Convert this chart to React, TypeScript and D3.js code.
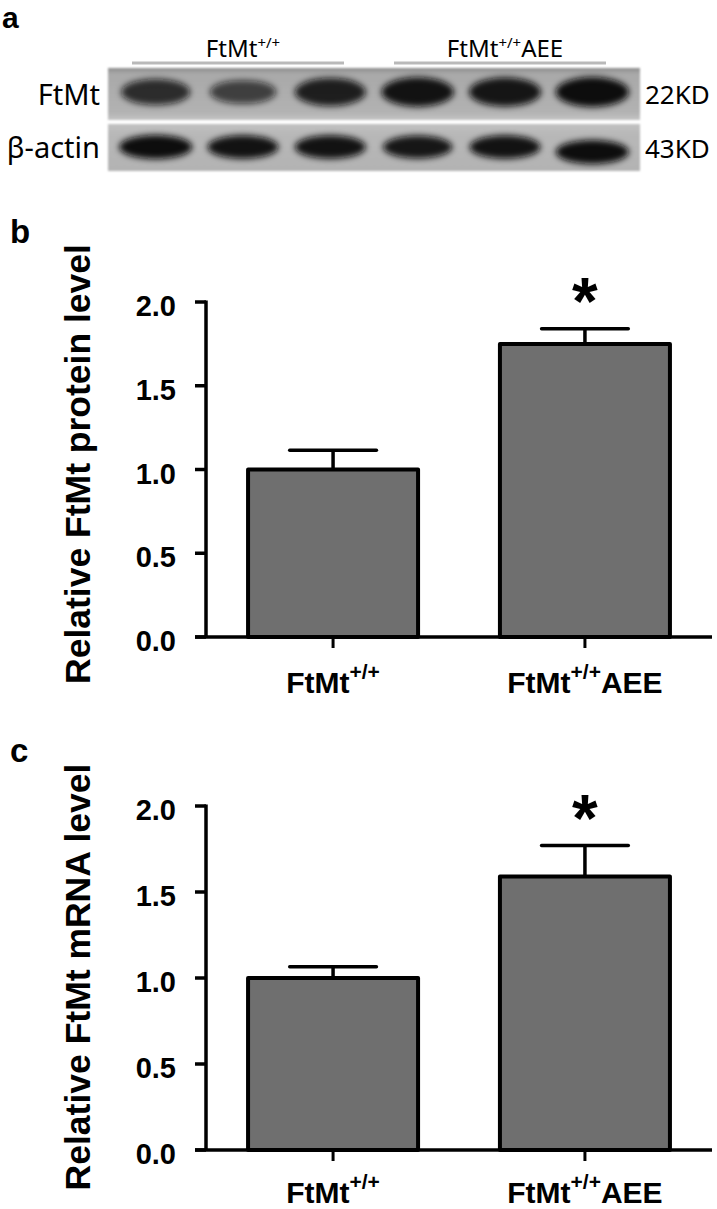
import React from "react";
import * as d3 from "d3";

// ---------- data ----------
const categories = ["FtMt+/+", "FtMt+/+AEE"];
const proteinMean = [1.0, 1.75];
const proteinErr = [0.115, 0.09];
const mrnaMean = [1.0, 1.59];
const mrnaErr = [0.065, 0.18];
const significant = [false, true];
const yTicks = [0, 0.5, 1.0, 1.5, 2.0];

const lanes = ["L1", "L2", "L3", "L4", "L5", "L6"];
const ftmtIntensity = [0.72, 0.55, 0.85, 0.95, 0.92, 1.0];
const actinIntensity = [1.0, 0.97, 0.97, 0.95, 0.97, 1.0];
const blotGroups = ["FtMt+/+", "FtMt+/+AEE"];

const FONT = "'Liberation Sans', Arial, sans-serif";
const BLOT_FONT = "'Noto Sans', 'Open Sans', sans-serif";

function SupLabel({ text, x, y, size, supSize, rise, anchor = "middle", weight = "bold", family = FONT }: any) {
  const idx = text.indexOf("+/+");
  const pre = idx >= 0 ? text.slice(0, idx) : text;
  const sup = idx >= 0 ? "+/+" : "";
  const post = idx >= 0 ? text.slice(idx + 3) : "";
  return (
    <text x={x} y={y} textAnchor={anchor} fontFamily={family} fontWeight={weight} fontSize={size} fill="#000">
      <tspan>{pre}</tspan>
      {sup && <tspan dy={-rise} fontSize={supSize}>{sup}</tspan>}
      {post && <tspan dy={rise}>{post}</tspan>}
    </text>
  );
}

function BarPanel({ letter, letterY, title, means, errs, zeroY, topY, labelY }: any) {
  const x = d3.scaleBand<string>().domain(categories).range([206, 712]).paddingInner(0.325).paddingOuter(0.167);
  const y = d3.scaleLinear().domain([0, 2]).range([zeroY, topY]);
  const axisX = 206;
  const bw = x.bandwidth();
  const capW = bw * 0.51;
  const fmt = d3.format(".1f");
  return (
    <g>
      <text x={10} y={letterY} fontFamily={FONT} fontWeight="bold" fontSize={33}>{letter}</text>
      <text
        transform={`translate(90, ${zeroY - 173}) rotate(-90)`}
        textAnchor="middle"
        fontFamily={FONT}
        fontWeight="bold"
        fontSize={35.5}
      >
        {title}
      </text>
      {categories.map((c, i) => {
        const cx = (x(c) as number) + bw / 2;
        const top = y(means[i]);
        const et = y(means[i] + errs[i]);
        return (
          <g key={c}>
            <line x1={cx} x2={cx} y1={top} y2={et} stroke="#000" strokeWidth={3.5} />
            <line x1={cx - capW / 2} x2={cx + capW / 2} y1={et} y2={et} stroke="#000" strokeWidth={3.5} strokeLinecap="round" />
            <rect x={x(c)} y={top} width={bw} height={zeroY - top} fill="#6f6f6f" stroke="#000" strokeWidth={4} strokeLinejoin="round" />
            {significant[i] && (
              <text x={cx} y={et - 5} textAnchor="middle" fontFamily={FONT} fontWeight="bold" fontSize={66}>*</text>
            )}
            <line x1={cx} x2={cx} y1={zeroY} y2={zeroY + 11} stroke="#000" strokeWidth={3} />
            <SupLabel text={c} x={cx} y={labelY} size={30} supSize={21} rise={14} />
          </g>
        );
      })}
      <line x1={axisX} x2={axisX} y1={topY - 1.5} y2={zeroY} stroke="#000" strokeWidth={3.5} />
      {yTicks.map((t) => (
        <g key={t}>
          <line x1={axisX - 11} x2={axisX} y1={y(t)} y2={y(t)} stroke="#000" strokeWidth={3.5} />
          <text x={176} y={y(t) + 14} textAnchor="end" fontFamily={FONT} fontWeight="bold" fontSize={29}>{fmt(t)}</text>
        </g>
      ))}
      <line x1={axisX - 11} x2={712} y1={zeroY} y2={zeroY} stroke="#000" strokeWidth={3.5} />
    </g>
  );
}

function Blot() {
  const lx = d3.scaleBand<string>().domain(lanes).range([112, 636]);
  const step = lx.bandwidth();
  return (
    <g>
      <defs>
        <filter id="blur" x="-30%" y="-60%" width="160%" height="220%">
          <feGaussianBlur stdDeviation="3" />
        </filter>
        <filter id="soft" x="-5%" y="-20%" width="110%" height="140%">
          <feGaussianBlur stdDeviation="1.2" />
        </filter>
        <linearGradient id="topStrip" x1="0" y1="0" x2="0" y2="1">
          <stop offset="0" stopColor="#8f8f8f" />
          <stop offset="0.12" stopColor="#a9a9a9" />
          <stop offset="0.85" stopColor="#b2b2b2" />
          <stop offset="1" stopColor="#c4c4c4" />
        </linearGradient>
        <linearGradient id="botStrip" x1="0" y1="0" x2="0" y2="1">
          <stop offset="0" stopColor="#c2c2c2" />
          <stop offset="0.2" stopColor="#b8b8b8" />
          <stop offset="1" stopColor="#b3b3b3" />
        </linearGradient>
      </defs>
      <text x={2} y={28} fontFamily={FONT} fontWeight="bold" fontSize={30}>a</text>
      {blotGroups.map((g, i) => {
        const l0 = lx(lanes[i * 3]) as number;
        const l1 = (lx(lanes[i * 3 + 2]) as number) + step;
        const cx = (l0 + l1) / 2;
        return (
          <g key={g}>
            <SupLabel text={g} x={cx} y={57} size={24} supSize={15} rise={9} weight="normal" family={BLOT_FONT} />
            <line x1={l0 + 20} x2={l1 - 30} y1={63} y2={63} stroke="#b9b9b9" strokeWidth={3} />
          </g>
        );
      })}
      <rect x={108} y={68} width={532} height={52} fill="url(#topStrip)" filter="url(#soft)" />
      <rect x={108} y={124} width={532} height={47} fill="url(#botStrip)" filter="url(#soft)" />
      {lanes.map((l, i) => {
        const cx = (lx(l) as number) + step / 2;
        const k = ftmtIntensity[i];
        const a = actinIntensity[i];
        return (
          <g key={l} filter="url(#blur)">
            <ellipse cx={cx} cy={92} rx={step * 0.42 * (0.8 + 0.2 * k)} ry={8 + 7 * k} fill="#0d0d0d" opacity={0.35 + 0.65 * k} />
            <ellipse cx={cx} cy={147 + (i === 5 ? 5 : 0)} rx={step * 0.42 * a} ry={12 * a} fill="#0a0a0a" opacity={a} />
          </g>
        );
      })}
      <text x={100} y={105} textAnchor="end" fontFamily={BLOT_FONT} fontSize={29}>FtMt</text>
      <text x={100} y={158} textAnchor="end" fontFamily={BLOT_FONT} fontSize={29}>β-actin</text>
      <text x={645} y={104} fontFamily={BLOT_FONT} fontSize={26}>22KD</text>
      <text x={645} y={158} fontFamily={BLOT_FONT} fontSize={26}>43KD</text>
    </g>
  );
}

export default function App() {
  return (
    <svg
      width={717}
      height={1209}
      viewBox="0 0 717 1209"
      style={{ position: "absolute", left: 0, top: 0, background: "#fff", display: "block" }}
    >
      <rect width={717} height={1209} fill="#fff" />
      <Blot />
      <BarPanel letter="b" letterY={243} title="Relative FtMt protein level" means={proteinMean} errs={proteinErr} zeroY={637} topY={302} labelY={693} />
      <BarPanel letter="c" letterY={762} title="Relative FtMt mRNA level" means={mrnaMean} errs={mrnaErr} zeroY={1150} topY={806} labelY={1203} />
    </svg>
  );
}
